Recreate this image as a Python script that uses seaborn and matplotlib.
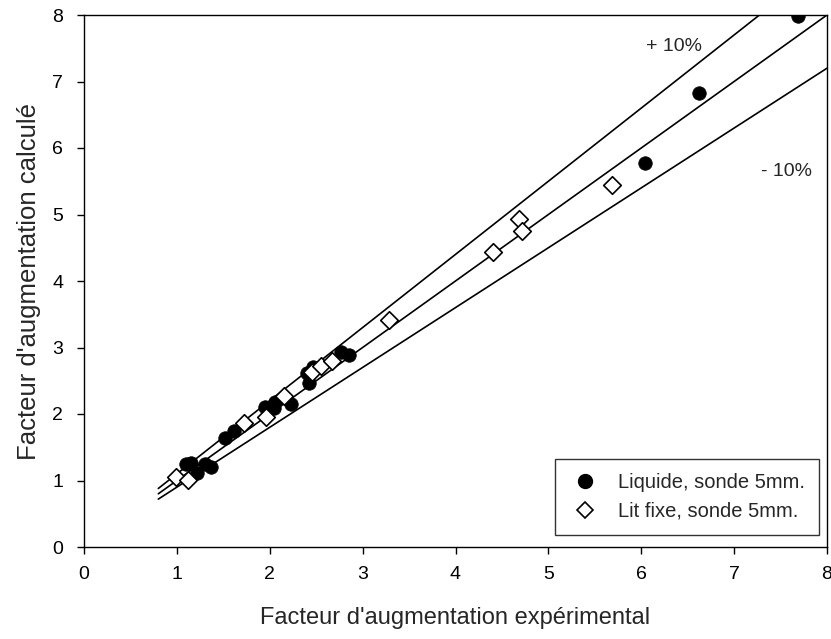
import matplotlib
matplotlib.use("Agg")
import matplotlib.pyplot as plt
import seaborn as sns
import numpy as np
import pandas as pd
from matplotlib.lines import Line2D

# Liquide, sonde 5mm. (filled circles)
liq_x = [1.10, 1.15, 1.22, 1.30, 1.37, 1.52, 1.62, 1.95, 2.05, 2.06, 2.23, 2.40, 2.42, 2.47, 2.77, 2.85, 6.04, 6.62, 7.69]
liq_y = [1.25, 1.26, 1.11, 1.25, 1.21, 1.64, 1.75, 2.10, 2.09, 2.18, 2.15, 2.62, 2.46, 2.70, 2.93, 2.88, 5.78, 6.82, 7.98]
# Lit fixe, sonde 5mm. (open diamonds)
lit_x = [0.99, 1.12, 1.72, 1.96, 2.15, 2.45, 2.55, 2.67, 3.28, 4.40, 4.68, 4.72, 5.68]
lit_y = [1.06, 1.01, 1.86, 1.95, 2.27, 2.63, 2.72, 2.79, 3.42, 4.43, 4.93, 4.75, 5.45]

series_names = ["Liquide, sonde 5mm.", "Lit fixe, sonde 5mm."]
line_x = [0.8, 8.0]
factors = [1.1, 1.0, 0.9]
labels_pm = ["+ 10%", "- 10%"]

sns.set_style("white")
plt.rcParams['font.family'] = ['Liberation Sans', 'DejaVu Sans']

df = pd.DataFrame({
    "x": liq_x + lit_x,
    "y": liq_y + lit_y,
    "serie": [series_names[0]] * len(liq_x) + [series_names[1]] * len(lit_x),
})

fig = plt.figure(figsize=(8.31, 6.39), dpi=100)
ax = fig.add_axes([84 / 831, 1 - 547 / 639, 743 / 831, 532 / 639])

# reference lines (y = x, +10 %, -10 %)
for f in factors:
    xs = np.array(line_x)
    ax.plot(xs, xs * f, color="black", lw=1.2, zorder=1)

d1 = df[df.serie == series_names[0]]
d2 = df[df.serie == series_names[1]]
sns.scatterplot(data=d1, x="x", y="y", ax=ax, marker="o", s=95, color="black",
                edgecolor="black", linewidth=0.5, zorder=3, legend=False)
sns.scatterplot(data=d2, x="x", y="y", ax=ax, marker="D", s=80, facecolor="white",
                edgecolor="black", linewidth=1.2, zorder=4, legend=False)

ax.set_xlim(0, 8)
ax.set_ylim(0, 8)
ax.set_xticks(range(0, 9))
ax.set_yticks(range(0, 9))
ax.tick_params(axis="both", direction="out", length=5, width=1, labelsize=14, colors="black")
ax.tick_params(axis="x", pad=9)
ax.tick_params(axis="y", pad=10)
ax.tick_params(axis="both", bottom=True, left=True)
for s in ax.spines.values():
    s.set_color("black")
    s.set_linewidth(1.0)
    s.set_visible(True)

ax.set_xlabel("Facteur d'augmentation expérimental", fontsize=17, labelpad=17)
ax.set_ylabel("Facteur d'augmentation calculé", fontsize=18.5, labelpad=8)

ax.text(6.35, 7.53, labels_pm[0], fontsize=14, ha="center", va="center")
ax.text(7.56, 5.64, labels_pm[1], fontsize=14, ha="center", va="center")

handles = [
    Line2D([], [], marker="o", color="black", ls="", markersize=10),
    Line2D([], [], marker="D", markerfacecolor="white", markeredgecolor="black",
           markeredgewidth=1.2, ls="", markersize=8),
]
leg = ax.legend(handles, series_names, loc="lower right",
                bbox_to_anchor=((819 - 84) / 743, (547 - 535) / 532), borderaxespad=0,
                fontsize=14.5, frameon=True, fancybox=False, edgecolor="black",
                handlelength=1.5, handletextpad=0.9, borderpad=0.7, labelspacing=0.5)
leg.get_frame().set_linewidth(1.0)

fig.savefig("out.png", dpi=100)
